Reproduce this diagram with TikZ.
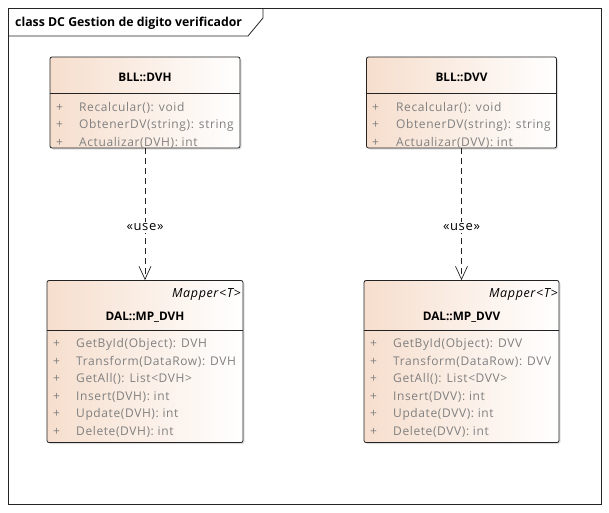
\documentclass[tikz,border=0pt]{standalone}
\usepackage{fontspec}
\setmainfont{Open Sans}
\newfontfamily\umlfont[LetterSpace=5]{Open Sans}
\usetikzlibrary{arrows.meta, positioning, shadows}
\definecolor{mypeach}{RGB}{246,222,205}
\definecolor{mygray}{RGB}{128,128,128}
\definecolor{myline}{RGB}{35,35,35}
\tikzset{
  classbox/.style={rectangle, draw=myline, left color=mypeach, right color=white,
    rounded corners=2pt, line width=0.8pt, inner sep=0pt,
    drop shadow={shadow xshift=1.5pt, shadow yshift=-1.5pt, opacity=0.25}},
  clsname/.style={font=\fontsize{11.8}{14}\selectfont\bfseries, anchor=base, inner sep=0pt},
  stereo/.style={font=\umlfont\fontsize{12.5}{14}\selectfont\itshape, anchor=base east, inner sep=0pt},
  member/.style={font=\umlfont\fontsize{12}{14}\selectfont, text=mygray, anchor=base west, inner sep=0pt},
  divider/.style={line width=0.8pt, draw=myline},
  usearrow/.style={-{Straight Barb[length=13pt, width=12pt]}, dash pattern=on 6pt off 4pt,
    line width=0.7pt, color=myline},
  usetag/.style={fill=white, text=black, font=\umlfont\fontsize{13}{15}\selectfont, inner sep=1.5pt}
}

\begin{document}
\begin{tikzpicture}[x=1pt, y=-1pt]
  \useasboundingbox (0,0) rectangle (609,512);

  % Diagram frame
  \draw[divider] (8,8) rectangle (601,504);
  \draw[divider] (8,36) -- (248,36) -- (263,18) -- (263,8);
  \node[font=\fontsize{12.3}{14}\selectfont\bfseries, anchor=base west, inner sep=0pt] (title) at (15,26.5) {class DC Gestion de digito verificador};

  % Business classes
  \node[classbox, minimum width=190pt, minimum height=91pt] (dvh) at (145,102.5) {};
  \node[classbox, minimum width=190pt, minimum height=91pt] (dvv) at (461.5,102.5) {};
  \node[clsname] (dvhname) at (145,81.5) {BLL::DVH};
  \node[clsname] (dvvname) at (461.5,81.5) {BLL::DVV};
  \draw[divider] (dvh.west |- 0,93) -- (dvh.east |- 0,93);
  \draw[divider] (dvv.west |- 0,93) -- (dvv.east |- 0,93);
  \foreach \m [count=\i] in {Recalcular(): void, ObtenerDV(string): string, Actualizar(DVH): int} {
    \node[member] (dvhplus\i) at (56,{111+17.5*(\i-1)}) {+};
    \node[member] (dvhop\i) at (79,{111+17.5*(\i-1)}) {\m};
  }
  \foreach \m [count=\i] in {Recalcular(): void, ObtenerDV(string): string, Actualizar(DVV): int} {
    \node[member] (dvvplus\i) at (372,{111+17.5*(\i-1)}) {+};
    \node[member] (dvvop\i) at (396,{111+17.5*(\i-1)}) {\m};
  }

  % Data access classes
  \node[classbox, minimum width=196pt, minimum height=162pt] (mpdvh) at (145,361.5) {};
  \node[classbox, minimum width=195pt, minimum height=162pt] (mpdvv) at (461.5,361.5) {};
  \node[stereo] (dvhstereo) at (241,297) {Mapper<T>};
  \node[stereo] (dvvstereo) at (558,297) {Mapper<T>};
  \node[clsname] (mpdvhname) at (145,320) {DAL::MP\_DVH};
  \node[clsname] (mpdvvname) at (461.5,320) {DAL::MP\_DVV};
  \draw[divider] (mpdvh.west |- 0,330) -- (mpdvh.east |- 0,330);
  \draw[divider] (mpdvv.west |- 0,330) -- (mpdvv.east |- 0,330);
  \foreach \m [count=\i] in {GetById(Object): DVH, Transform(DataRow): DVH, GetAll(): List<DVH>,
      Insert(DVH): int, Update(DVH): int, Delete(DVH): int} {
    \node[member] (mpdvhplus\i) at (53,{347.5+17.6*(\i-1)}) {+};
    \node[member] (mpdvhop\i) at (76,{347.5+17.6*(\i-1)}) {\m};
  }
  \foreach \m [count=\i] in {GetById(Object): DVV, Transform(DataRow): DVV, GetAll(): List<DVV>,
      Insert(DVV): int, Update(DVV): int, Delete(DVV): int} {
    \node[member] (mpdvvplus\i) at (370,{347.5+17.6*(\i-1)}) {+};
    \node[member] (mpdvvop\i) at (393,{347.5+17.6*(\i-1)}) {\m};
  }

  % Usage dependencies
  \draw[usearrow] (dvh) -- node[usetag, pos=0.6] (usel) {«use»} (mpdvh);
  \draw[usearrow] (dvv) -- node[usetag, pos=0.6] (user) {«use»} (mpdvv);
\end{tikzpicture}
\end{document}
